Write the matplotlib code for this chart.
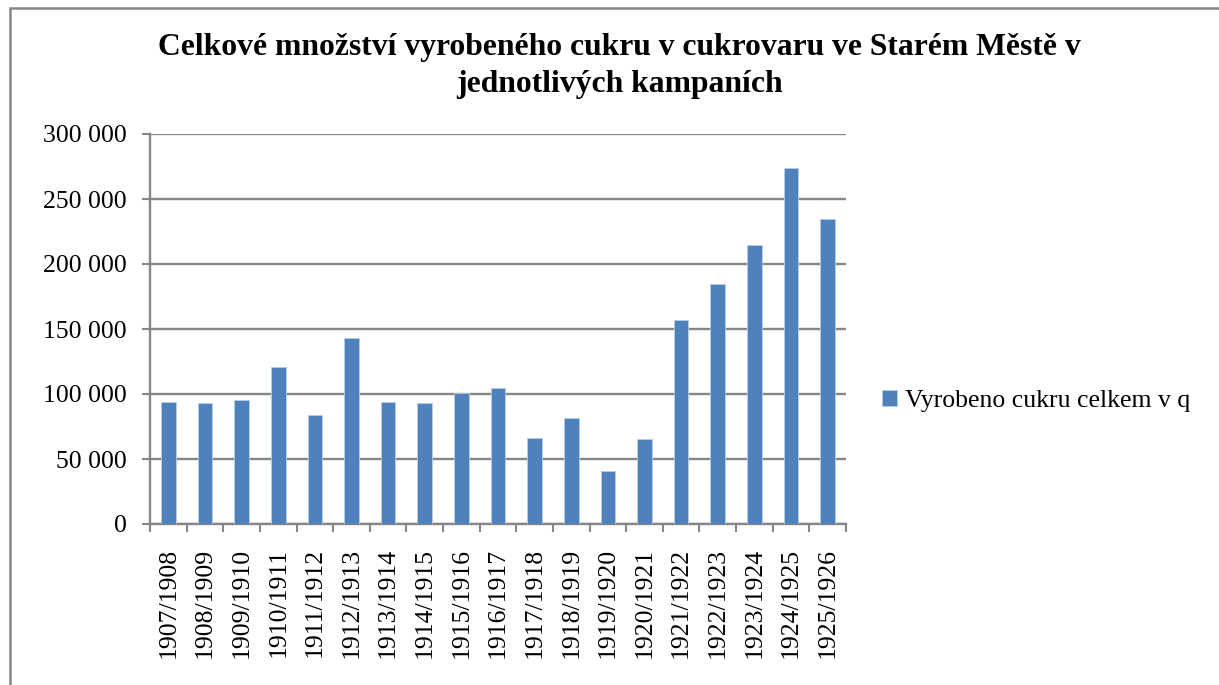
import matplotlib.pyplot as plt
from matplotlib.patches import Rectangle
from matplotlib.ticker import FuncFormatter

# kampaně a výroba cukru (q)
kampane = ['1907/1908', '1908/1909', '1909/1910', '1910/1911', '1911/1912',
           '1912/1913', '1913/1914', '1914/1915', '1915/1916', '1916/1917',
           '1917/1918', '1918/1919', '1919/1920', '1920/1921', '1921/1922',
           '1922/1923', '1923/1924', '1924/1925', '1925/1926']
vyrobeno = [93800, 93100, 95600, 121000, 83600, 142800, 93600, 93400, 100500,
            104900, 66200, 81800, 41000, 65100, 157200, 184400, 214600,
            274100, 234600]

plt.rcParams['font.family'] = ['Liberation Serif', 'DejaVu Serif']
grey = '#868686'

fig = plt.figure(figsize=(12.19, 6.85), dpi=100)
ax = fig.add_axes([150 / 1219, 1 - 524 / 685, 696 / 1219, 390 / 685])

x = range(len(kampane))
bars = ax.bar(x, vyrobeno, width=0.4, color='#4F81BD', edgecolor='#b9cde5',
              linewidth=0.6, label='Vyrobeno cukru celkem v q', zorder=3)

ax.set_xlim(-0.5, len(kampane) - 0.5)
ax.set_ylim(0, 300000)
ax.set_yticks(range(0, 300001, 50000))
ax.yaxis.set_major_formatter(FuncFormatter(lambda v, p: f'{int(v):,}'.replace(',', ' ')))
ax.set_xticks(list(x))
ax.set_xticklabels(kampane, rotation=90)
ax.set_xticks([i - 0.5 for i in range(len(kampane) + 1)], minor=True)

ax.grid(axis='y', color=grey, linewidth=1.7, zorder=0)
for s in ['top', 'right']:
    ax.spines[s].set_visible(False)
for s in ['left', 'bottom']:
    ax.spines[s].set_color(grey)
    ax.spines[s].set_linewidth(1.7)

ax.tick_params(axis='y', length=6, width=1.5, color=grey, pad=11, labelsize=18.5)
ax.tick_params(axis='x', which='major', length=0, pad=17, labelsize=18.5)
ax.tick_params(axis='x', which='minor', length=6, width=1.5, color=grey)

fig.text(619 / 1219, 1 - 66 / 685,
         'Celkové množství vyrobeného cukru v cukrovaru ve Starém Městě v\njednotlivých kampaních',
         ha='center', va='center', fontsize=22.8, fontweight='bold', linespacing=1.32)

fig.legend(handles=[bars], loc='center left', bbox_to_anchor=(882 / 1219, 1 - 401 / 685),
           frameon=False, fontsize=18.5, handlelength=0.6, handleheight=0.6,
           handletextpad=0.3, borderpad=0, borderaxespad=0)

fig.patches.append(Rectangle((10 / 1219, -0.1), 1.2, 1.1 - 8 / 685,
                             transform=fig.transFigure, fill=False,
                             edgecolor=grey, linewidth=1.8))

plt.savefig('out.png')
